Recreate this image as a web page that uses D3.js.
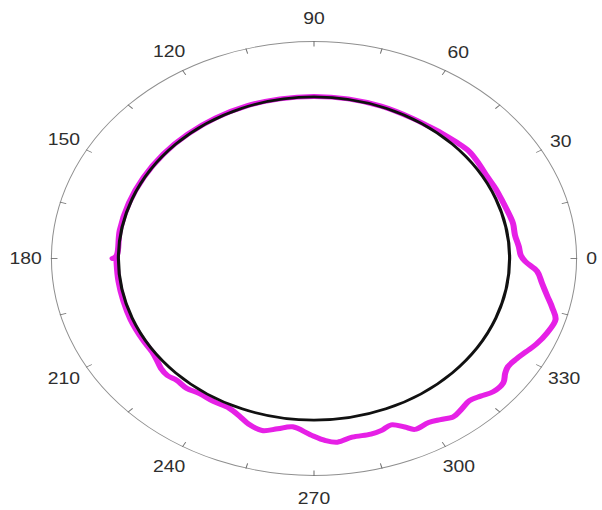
<!DOCTYPE html>
<html>
<head>
<meta charset="utf-8">
<script src="https://cdn.jsdelivr.net/npm/d3@7"></script>
<style>
  html, body { margin: 0; padding: 0; background: #fff; }
  svg { display: block; }
</style>
</head>
<body>
<svg id="chart" width="602" height="510"></svg>
<script>
// ---- data ----
const tickAngles = [0, 15, 30, 45, 60, 75, 90, 105, 120, 135, 150, 165, 180, 195, 210, 225, 240, 255, 270, 285, 300, 315, 330, 345];
const labelAngles = [0, 30, 60, 90, 120, 150, 180, 210, 240, 270, 300, 330];
const labelTexts = ["0", "30", "60", "90", "120", "150", "180", "210", "240", "270", "300", "330"];

const radialMax = 1.0;
const referenceRadius = 0.745;   // black circle

// measured pattern (angle in degrees, radius)
const patternAngles = [
  -180, -178, -172, -165, -158, -150, -145, -142, -139, -136, -133, -129, -125, -120, -115,
  -111, -108, -104, -100, -96, -91, -87, -84, -80, -75, -72, -69, -66, -64, -60,
  -57, -54, -51, -48, -45, -42, -38.5, -36, -34, -31, -28, -25, -21, -17, -14,
  -11, -7.5, -4, -1, 1, 4, 8, 12, 15, 20, 25, 30, 35, 40, 45,
  50, 55, 60, 70, 80, 90, 100, 110, 120, 130, 140, 150, 160, 170, 179, 180
];
const patternValues = [
  0.752, 0.752, 0.752, 0.752, 0.753, 0.752, 0.752, 0.760, 0.772, 0.776, 0.767, 0.770, 0.760, 0.762, 0.762,
  0.782, 0.803, 0.817, 0.797, 0.780, 0.812, 0.840, 0.851, 0.836, 0.838, 0.833, 0.821, 0.850, 0.876, 0.873,
  0.885, 0.902, 0.893, 0.883, 0.897, 0.918, 0.921, 0.900, 0.891, 0.899, 0.915, 0.934, 0.952, 0.962, 0.935,
  0.905, 0.876, 0.852, 0.805, 0.788, 0.782, 0.773, 0.775, 0.771, 0.765, 0.763, 0.760, 0.765, 0.770, 0.762,
  0.755, 0.749, 0.747, 0.747, 0.747, 0.747, 0.747, 0.748, 0.748, 0.748, 0.749, 0.749, 0.750, 0.751, 0.752, 0.767
];

// ---- layout ----
const cx = 314, cy = 258.5;
const R = 217;          // radius of outer circle (before horizontal stretch)
const stretchX = 1.21;  // the figure is stretched horizontally

const svg = d3.select("#chart");
const g = svg.append("g")
  .attr("transform", `translate(${cx},${cy}) scale(${stretchX},1)`);

const r = d3.scaleLinear().domain([0, radialMax]).range([0, R]);
const toRad = d => (90 - d) * Math.PI / 180; // math angle -> d3 radial angle

// outer circle
g.append("circle")
  .attr("r", r(radialMax))
  .attr("fill", "none")
  .attr("stroke", "#8f8f8f")
  .attr("stroke-width", 0.85);

// ticks (pointing inward)
const tickLen = 5;
g.selectAll("line.tick")
  .data(tickAngles)
  .join("line")
  .attr("class", "tick")
  .attr("x1", d => (r(radialMax) + 0.5) * Math.cos(d * Math.PI / 180))
  .attr("y1", d => -(r(radialMax) + 0.5) * Math.sin(d * Math.PI / 180))
  .attr("x2", d => (r(radialMax) - tickLen) * Math.cos(d * Math.PI / 180))
  .attr("y2", d => -(r(radialMax) - tickLen) * Math.sin(d * Math.PI / 180))
  .attr("stroke", "#707070")
  .attr("stroke-width", 0.85);

// labels
const fontSize = 16;
g.selectAll("text.lab")
  .data(labelAngles)
  .join("text")
  .attr("class", "lab")
  .text((d, i) => labelTexts[i])
  .attr("font-family", "'Liberation Sans', Arial, Helvetica, sans-serif")
  .attr("font-size", fontSize)
  .attr("fill", "#2e2e2e")
  .attr("text-anchor", "middle")
  .attr("dy", "0.36em")
  .each(function (d, i) {
    const a = d * Math.PI / 180;
    const hw = labelTexts[i].length * 0.556 * fontSize / 2;
    const c2 = Math.cos(a) ** 2, s2 = Math.sin(a) ** 2;
    const rl = r(radialMax) + 8 + hw * c2 + 15 * s2;
    d3.select(this)
      .attr("x", rl * Math.cos(a))
      .attr("y", -rl * Math.sin(a));
  });

// measured pattern (magenta)
const pattern = patternAngles.map((a, i) => ({ a, v: patternValues[i] }));
const radialLine = d3.lineRadial()
  .angle(d => toRad(d.a))
  .radius(d => r(d.v))
  .curve(d3.curveCatmullRom.alpha(0.5));

g.append("path")
  .datum(pattern)
  .attr("d", radialLine)
  .attr("fill", "none")
  .attr("stroke", "#e620e6")
  .attr("stroke-width", 5)
  .attr("stroke-linejoin", "round")
  .attr("stroke-linecap", "round");

// reference circle (black)
g.append("circle")
  .attr("r", r(referenceRadius))
  .attr("fill", "none")
  .attr("stroke", "#111")
  .attr("stroke-width", 2.6);
</script>
</body>
</html>
